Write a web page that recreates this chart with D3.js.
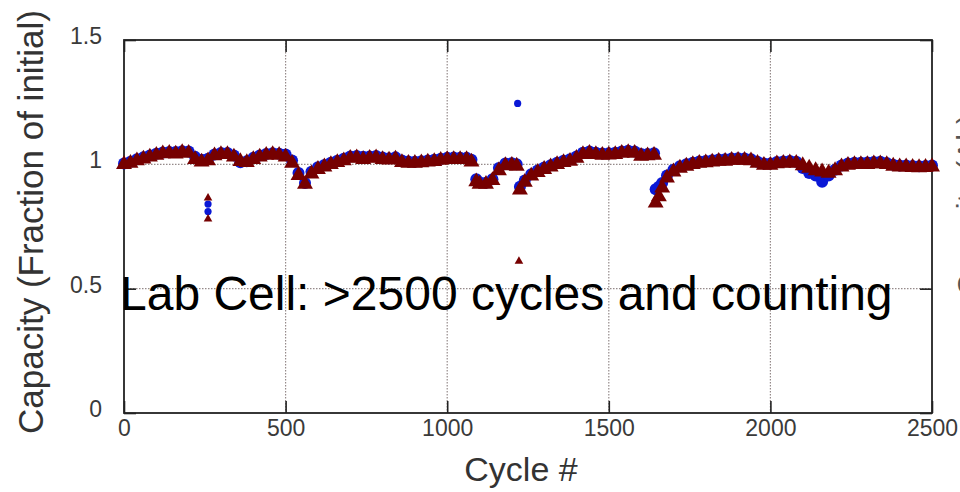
<!DOCTYPE html>
<html>
<head>
<meta charset="utf-8">
<script src="https://cdn.jsdelivr.net/npm/d3@7"></script>
<style>
  body { margin: 0; background: #fff; }
  text { font-family: "Liberation Sans", Arial, sans-serif; }
</style>
</head>
<body>
<svg id="chart" width="960" height="492"></svg>
<script>
// cycle numbers where capacity was sampled
const cycles = [0, 20, 40, 60, 80, 100, 120, 140, 160, 180, 200, 220, 240, 260, 280, 300, 320, 340, 360, 380,
  400, 420, 440, 460, 480, 500, 520, 540, 560, 580, 600, 620, 640, 660, 680, 700, 720, 740, 760, 780,
  800, 820, 840, 860, 880, 900, 920, 940, 960, 980, 1000, 1020, 1040, 1060, 1075, 1090, 1100, 1120, 1140, 1160,
  1180, 1200, 1215, 1225, 1240, 1260, 1280, 1300, 1320, 1340, 1360, 1380, 1400, 1420, 1440, 1460, 1480, 1500, 1520, 1540,
  1560, 1580, 1600, 1620, 1640, 1645, 1655, 1665, 1680, 1700, 1720, 1740, 1760, 1780, 1800, 1820, 1840, 1860, 1880, 1900,
  1920, 1940, 1960, 1980, 2000, 2020, 2040, 2060, 2080, 2100, 2120, 2140, 2160, 2180, 2200, 2220, 2240, 2260, 2280, 2300,
  2320, 2340, 2360, 2380, 2400, 2420, 2440, 2460, 2480, 2500];

// blue circles (fraction of initial)
const capBlue = [1.003, 1.01, 1.02, 1.028, 1.036, 1.043, 1.048, 1.05, 1.05, 1.053, 1.052, 1.03, 1.018, 1.022, 1.04, 1.046, 1.046, 1.036, 1.008, 1.012,
  1.026, 1.036, 1.042, 1.045, 1.043, 1.04, 1.015, 0.965, 0.925, 0.97, 0.988, 0.997, 1.006, 1.014, 1.022, 1.032, 1.034, 1.03, 1.032, 1.034,
  1.027, 1.024, 1.028, 1.015, 1.011, 1.01, 1.012, 1.015, 1.018, 1.022, 1.026, 1.027, 1.026, 1.026, 1.018, 0.94, 0.928, 0.926, 0.94, 0.985,
  1.003, 1.004, 1.0, 0.91, 0.935, 0.96, 0.975, 0.987, 0.996, 1.006, 1.014, 1.02, 1.032, 1.047, 1.052, 1.047, 1.044, 1.045, 1.047, 1.052,
  1.055, 1.052, 1.042, 1.042, 1.045, 0.9, 0.91, 0.925, 0.955, 0.978, 0.992, 1.0, 1.006, 1.011, 1.013, 1.016, 1.019, 1.02, 1.023, 1.024,
  1.023, 1.02, 1.01, 1.003, 1.003, 1.009, 1.011, 1.013, 1.01, 0.985, 0.965, 0.955, 0.93, 0.955, 0.978, 0.995, 1.003, 1.006, 1.006, 1.007,
  1.009, 1.01, 1.005, 0.998, 0.995, 0.995, 0.993, 0.992, 0.993, 0.995];

// dark red triangles (fraction of initial)
const capRed = [1.0, 1.005, 1.015, 1.022, 1.03, 1.037, 1.043, 1.045, 1.042, 1.048, 1.045, 1.02, 1.01, 1.015, 1.035, 1.04, 1.04, 1.03, 1.012, 1.008,
  1.02, 1.03, 1.037, 1.04, 1.037, 1.03, 1.005, 0.955, 0.92, 0.962, 0.98, 0.99, 1.0, 1.008, 1.015, 1.025, 1.027, 1.02, 1.025, 1.027,
  1.02, 1.018, 1.022, 1.008, 1.005, 1.005, 1.007, 1.01, 1.012, 1.017, 1.02, 1.02, 1.02, 1.02, 1.01, 0.93, 0.92, 0.92, 0.935, 0.975,
  0.995, 0.997, 0.993, 0.897, 0.928, 0.953, 0.968, 0.98, 0.99, 1.0, 1.008, 1.013, 1.025, 1.04, 1.045, 1.04, 1.037, 1.038, 1.04, 1.045,
  1.048, 1.045, 1.033, 1.035, 1.037, 0.845, 0.87, 0.905, 0.945, 0.97, 0.985, 0.993, 1.0, 1.005, 1.007, 1.01, 1.013, 1.013, 1.017, 1.017,
  1.017, 1.015, 1.005, 0.997, 0.997, 1.003, 1.005, 1.007, 1.005, 0.995, 0.985, 0.975, 0.97, 0.965, 0.975, 0.99, 0.997, 1.0, 1.0, 1.0,
  1.003, 1.003, 1.0, 0.993, 0.99, 0.99, 0.988, 0.987, 0.988, 0.99];

// stray readings away from the main band
const strayCyclesBlue = [260, 260, 1218];
const strayBlue = [0.84, 0.81, 1.245];
const strayCyclesRed = [260, 260, 1222];
const strayRed = [0.865, 0.78, 0.61];

const xTicks = [0, 500, 1000, 1500, 2000, 2500];
const yTicks = [0, 0.5, 1, 1.5];

const svg = d3.select("#chart");
const pLeft = 124, pRight = 932, pTop = 40, pBottom = 413;

const x = d3.scaleLinear().domain([0, 2500]).range([pLeft, pRight]);
const y = d3.scaleLinear().domain([0, 1.5]).range([pBottom, pTop]);

// dotted grid
const grid = svg.append("g")
  .attr("stroke", "#958a8a")
  .attr("stroke-width", 1.2)
  .attr("stroke-dasharray", "1.5,1.5");
grid.selectAll("line.gx")
  .data(xTicks.slice(1, -1))
  .enter().append("line")
  .attr("x1", (d) => x(d)).attr("x2", (d) => x(d))
  .attr("y1", pTop).attr("y2", pBottom);
grid.selectAll("line.gy")
  .data(yTicks.slice(1, -1))
  .enter().append("line")
  .attr("x1", pLeft).attr("x2", pRight)
  .attr("y1", (d) => y(d)).attr("y2", (d) => y(d));

function styleAxis(g) {
  g.select(".domain").remove();
  g.selectAll(".tick line").attr("stroke", "#222").attr("stroke-width", 1.6);
  g.selectAll(".tick text")
    .attr("fill", "#3a3a3a")
    .style("font-size", "23px");
}

svg.append("g")
  .attr("transform", `translate(0,${pBottom})`)
  .call(d3.axisBottom(x).tickValues(xTicks).tickSize(-12).tickPadding(7).tickFormat(d3.format("d")))
  .call(styleAxis);

svg.append("g")
  .attr("transform", `translate(${pLeft},0)`)
  .call(d3.axisLeft(y).tickValues(yTicks).tickSize(-12).tickPadding(22).tickFormat((d) => String(d)))
  .call(styleAxis)
  .call((g) => g.selectAll(".tick text").attr("dy", "0.15em"));

svg.append("g")
  .attr("transform", `translate(0,${pTop})`)
  .call(d3.axisTop(x).tickValues(xTicks).tickSize(-12).tickFormat(""))
  .call(styleAxis);

svg.append("g")
  .attr("transform", `translate(${pRight},0)`)
  .call(d3.axisRight(y).tickValues(yTicks).tickSize(-12).tickFormat(""))
  .call(styleAxis);

// plot frame
svg.append("rect")
  .attr("x", pLeft).attr("y", pTop)
  .attr("width", pRight - pLeft).attr("height", pBottom - pTop)
  .attr("fill", "none")
  .attr("stroke", "#222")
  .attr("stroke-width", 1.8);

// [cycle, value, marker size]
const blue = cycles.map((c, i) => [c, capBlue[i], 6]);
const blueStray = strayCyclesBlue.map((c, i) => [c, strayBlue[i], 3.6]);
const red = cycles.map((c, i) => [c, capRed[i], 110]);
const redStray = strayCyclesRed.map((c, i) => [c, strayRed[i], 32]);

svg.append("g").selectAll("circle")
  .data(blue.concat(blueStray))
  .enter().append("circle")
  .attr("cx", (d) => x(d[0]))
  .attr("cy", (d) => y(d[1]))
  .attr("r", (d) => d[2])
  .attr("fill", "#0a18d6");

svg.append("g").selectAll("path")
  .data(red.concat(redStray))
  .enter().append("path")
  .attr("d", (d) => d3.symbol().type(d3.symbolTriangle).size(d[2])())
  .attr("transform", (d) => `translate(${x(d[0])},${y(d[1])})`)
  .attr("fill", "#760000");

// axis titles
svg.append("text")
  .attr("x", 521).attr("y", 481)
  .attr("text-anchor", "middle")
  .attr("fill", "#333")
  .style("font-size", "34px")
  .text("Cycle #");

svg.append("text")
  .attr("transform", "translate(43,222) rotate(-90)")
  .attr("text-anchor", "middle")
  .attr("fill", "#333")
  .style("font-size", "35px")
  .text("Capacity (Fraction of initial)");

svg.append("text")
  .attr("transform", "translate(978,205) rotate(-90)")
  .attr("text-anchor", "middle")
  .attr("fill", "#555")
  .style("font-size", "30px")
  .text("Capacity (Ah)");

svg.append("text")
  .attr("x", 120).attr("y", 310)
  .attr("fill", "#000")
  .style("font-size", "48px")
  .text("Lab Cell: >2500 cycles and counting");
</script>
</body>
</html>
